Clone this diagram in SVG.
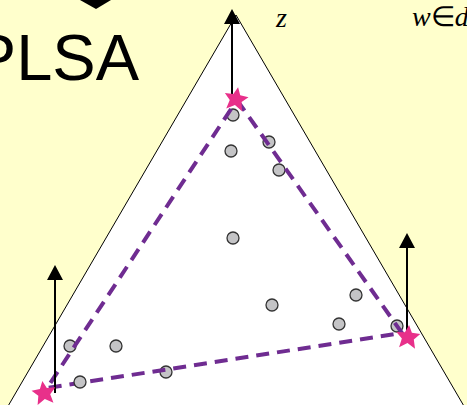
<svg xmlns="http://www.w3.org/2000/svg" width="467" height="405" viewBox="0 0 467 405">
<style>
.pt{fill:#C4C4C6;stroke:#333;stroke-width:1.3}
.ax{stroke:#000;stroke-width:2;fill:none}
.ah{fill:#000}
.dash{fill:none;stroke:#6F2C91;stroke-width:4;stroke-dasharray:13 8}
.star{fill:#E8308A}
.lbl{font-family:"Liberation Serif",serif;font-style:italic;font-size:28px;fill:#000}
.up{font-style:normal}
.title{font-family:"Liberation Sans",Arial,sans-serif;font-size:65px;fill:#000}
</style>
<defs>
<polygon id="st" points="0,-12 3.5,-4.5 12,-4 6,2 8,11 0,6 -8,11 -6,2 -12,-4 -3.5,-4.5"/>
</defs>
<rect width="467" height="405" fill="#FFFFCC"/>
<g id="simplex">
<polygon points="236,15 468,413 4,413" fill="#FFFFFF" stroke="#000" stroke-width="1"/>
</g>
<g id="title">
<polygon points="80,0 111,0 96,9" fill="#000"/>
<text class="title" x="139" y="80" text-anchor="end">PLSA</text>
</g>
<g id="labels">
<text class="lbl" x="276" y="27">z</text>
<text class="lbl" x="412" y="26">w<tspan class="up">∈</tspan>d</text>
</g>
<g id="points">
<circle class="pt" cx="233" cy="115" r="6"/>
<circle class="pt" cx="231" cy="151" r="6"/>
<circle class="pt" cx="269" cy="142" r="6"/>
<circle class="pt" cx="279" cy="170" r="6"/>
<circle class="pt" cx="233" cy="238" r="6"/>
<circle class="pt" cx="272" cy="305" r="6"/>
<circle class="pt" cx="356" cy="295" r="6"/>
<circle class="pt" cx="339" cy="324" r="6"/>
<circle class="pt" cx="397" cy="326" r="6"/>
<circle class="pt" cx="70" cy="346" r="6"/>
<circle class="pt" cx="116" cy="346" r="6"/>
<circle class="pt" cx="166" cy="372" r="6"/>
</g>
<g id="connectors">
<polygon class="dash" points="237,100 402,333 47,388"/>
<line class="ax" x1="232" y1="100" x2="232" y2="22"/>
<polygon class="ah" points="232,9 224,24 240,24"/>
<line class="ax" x1="55" y1="393" x2="55" y2="278"/>
<polygon class="ah" points="55,265 47,280 63,280"/>
<line class="ax" x1="407" y1="337" x2="407" y2="246"/>
<polygon class="ah" points="407,233 399,248 415,248"/>
</g>
<g id="point-near-base">
<circle class="pt" cx="80" cy="382" r="6"/>
</g>
<g id="star-top"><use href="#st" class="star" transform="translate(236,99) rotate(10)"/></g>
<g id="star-left"><use href="#st" class="star" transform="translate(44,393) rotate(-8)"/></g>
<g id="star-right"><use href="#st" class="star" transform="translate(408,337) rotate(5)"/></g>
</svg>
